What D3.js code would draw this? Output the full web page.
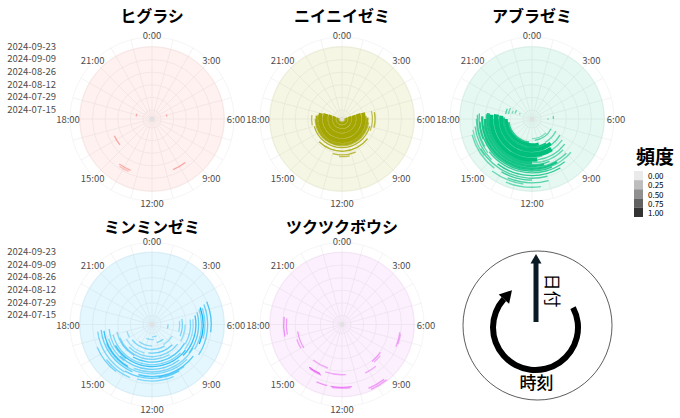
<!DOCTYPE html>
<html><head><meta charset="utf-8">
<script src="https://cdn.jsdelivr.net/npm/d3@7/dist/d3.min.js"></script>
<style>
body{margin:0;background:#fff}
text{font-family:"Noto Sans CJK JP","Noto Sans",sans-serif}
</style>
</head><body>
<svg id="c" width="680" height="418"></svg>
<script>
// ---------------- data ----------------
const species = ["ヒグラシ","ニイニイゼミ","アブラゼミ","ミンミンゼミ","ツクツクボウシ"];
const speciesColors = ["#F8766D","#A3A500","#00BF7D","#00B0F6","#E76BF3"];
const hourTicks = [0,3,6,9,12,15,18,21];
const hourTickLabels = ["0:00","3:00","6:00","9:00","12:00","15:00","18:00","21:00"];
const dateTicks = ["2024-07-15","2024-07-29","2024-08-12","2024-08-26","2024-09-09","2024-09-23"];
const dateRange = ["2024-07-05","2024-09-24"];
const legendValues = [0,0.25,0.5,0.75,1];
const legendLabels = ["0.00","0.25","0.50","0.75","1.00"];

// records: [date, days, startHour, endHour, frequency]
const higurashi = [
 ["2024-07-21",1,4.8,5.4,0.5],
 ["2024-07-22",1,18.6,19.3,0.5],
 ["2024-08-19",1,15.4,16.4,0.55],
 ["2024-09-03",1,9.5,10.5,0.55],
 ["2024-09-04",1,13.5,14.4,0.5],
 ["2024-09-06",1,13.6,14.3,0.3]
];
const niinii = [
 ["2024-07-07",2,5.0,19.0,0.6],
 ["2024-07-09",2,4.8,19.2,1.0],
 ["2024-07-11",1,5.5,18.5,0.4],
 ["2024-07-12",3,4.8,19.3,1.0],
 ["2024-07-15",1,5.2,18.8,0.5],
 ["2024-07-16",4,4.8,19.3,1.0],
 ["2024-07-20",1,5.0,19.0,0.6],
 ["2024-07-21",5,4.8,19.2,1.0],
 ["2024-07-26",1,5.5,18.5,0.5],
 ["2024-07-27",4,4.9,19.0,1.0],
 ["2024-07-31",1,5.5,18.7,0.7],
 ["2024-08-01",2,5.8,18.5,0.9],
 ["2024-08-03",1,6.5,18.0,0.6],
 ["2024-08-05",1,7.0,17.0,0.8],
 ["2024-08-07",1,17.2,18.5,0.6],
 ["2024-08-07",1,5.0,7.5,0.6],
 ["2024-08-09",1,8.5,15.0,0.8],
 ["2024-08-10",1,5.2,7.0,0.7],
 ["2024-08-13",1,10.5,13.0,0.7],
 ["2024-08-15",1,11.2,12.3,0.6]
];
const abura = [
 ["2024-07-19",1,19.3,19.8,0.4],
 ["2024-07-22",1,5.8,6.2,0.4],
 ["2024-07-24",1,19.2,20.0,0.5],
 ["2024-07-26",1,9.0,12.0,0.4],
 ["2024-07-27",1,19.0,19.6,0.4],
 ["2024-07-28",1,5.5,6.0,0.5],
 ["2024-07-28",1,7.8,11.5,0.5],
 ["2024-07-30",2,12.5,17.5,0.8],
 ["2024-07-31",1,18.8,19.8,0.5],
 ["2024-08-01",3,11.0,18.0,1.0],
 ["2024-08-03",1,7.8,10.0,0.5],
 ["2024-08-03",1,18.7,19.5,0.6],
 ["2024-08-04",2,10.0,18.2,0.9],
 ["2024-08-06",4,9.5,18.4,1.0],
 ["2024-08-09",1,8.0,9.5,0.6],
 ["2024-08-10",1,10.5,18.0,0.6],
 ["2024-08-11",5,9.8,18.5,1.0],
 ["2024-08-14",1,8.3,9.8,0.5],
 ["2024-08-16",1,11.0,18.0,0.5],
 ["2024-08-17",4,11.5,18.4,1.0],
 ["2024-08-19",1,8.5,11.5,0.6],
 ["2024-08-21",3,12.0,18.5,0.9],
 ["2024-08-22",1,9.0,12.0,0.5],
 ["2024-08-24",1,10.5,18.4,0.7],
 ["2024-08-25",2,11.0,18.0,0.9],
 ["2024-08-27",1,9.0,17.5,0.6],
 ["2024-08-28",2,10.0,18.2,0.9],
 ["2024-08-30",1,8.7,16.5,0.5],
 ["2024-08-31",1,10.5,17.8,0.8],
 ["2024-09-01",1,16.5,18.4,0.7],
 ["2024-09-02",1,9.5,15.5,0.7],
 ["2024-09-03",1,16.0,18.3,0.6],
 ["2024-09-04",1,15.5,18.0,0.5],
 ["2024-09-05",1,10.0,14.5,0.8],
 ["2024-09-06",1,15.0,17.5,0.6],
 ["2024-09-08",1,11.0,16.0,0.6],
 ["2024-09-09",1,15.5,17.3,0.4],
 ["2024-09-10",1,12.0,14.0,0.7],
 ["2024-09-11",1,14.5,17.0,0.5],
 ["2024-09-13",1,11.0,13.5,0.6],
 ["2024-09-15",1,12.5,14.5,0.5],
 ["2024-09-18",1,11.5,13.5,0.5]
];
const minmin = [
 ["2024-07-18",1,10.5,12.0,0.3],
 ["2024-07-21",1,11.5,13.5,0.3],
 ["2024-07-22",1,6.0,7.0,0.4],
 ["2024-07-25",1,9.5,11.0,0.4],
 ["2024-07-28",1,12.0,14.5,0.3],
 ["2024-07-30",1,8.0,10.0,0.3],
 ["2024-08-01",1,10.0,15.5,0.4],
 ["2024-08-02",1,16.0,17.0,0.3],
 ["2024-08-04",1,5.5,7.0,0.3],
 ["2024-08-05",1,9.0,12.5,0.5],
 ["2024-08-06",1,13.0,16.0,0.3],
 ["2024-08-07",1,5.3,7.5,0.4],
 ["2024-08-09",1,8.5,15.0,0.4],
 ["2024-08-10",1,6.0,8.0,0.3],
 ["2024-08-12",1,10.0,16.5,0.4],
 ["2024-08-13",1,14.0,17.2,0.4],
 ["2024-08-15",1,8.0,14.0,0.6],
 ["2024-08-16",1,5.5,8.0,0.4],
 ["2024-08-18",1,9.0,17.0,0.4],
 ["2024-08-19",1,5.5,8.5,0.3],
 ["2024-08-20",1,8.5,16.0,0.7],
 ["2024-08-21",1,14.5,17.6,0.4],
 ["2024-08-22",1,5.2,9.0,0.7],
 ["2024-08-23",1,9.5,15.0,0.5],
 ["2024-08-24",1,14.5,16.8,0.4],
 ["2024-08-25",1,5.0,8.5,0.5],
 ["2024-08-26",1,8.0,13.5,0.4],
 ["2024-08-27",1,14.0,17.5,0.7],
 ["2024-08-28",1,9.0,16.5,0.4],
 ["2024-08-28",1,4.8,8.0,0.4],
 ["2024-08-30",1,4.7,7.5,0.9],
 ["2024-08-30",1,13.5,17.6,0.5],
 ["2024-08-31",1,8.5,13.0,0.6],
 ["2024-09-01",1,4.8,7.0,0.4],
 ["2024-09-01",1,9.5,11.5,0.4],
 ["2024-09-02",1,10.0,14.0,0.5],
 ["2024-09-03",1,14.0,17.5,0.4],
 ["2024-09-04",1,4.6,8.2,0.5],
 ["2024-09-05",1,10.5,13.0,0.4],
 ["2024-09-06",1,13.5,15.5,0.4],
 ["2024-09-08",1,4.5,6.5,0.6],
 ["2024-09-08",1,14.5,16.5,0.4]
];
const tsukutsuku = [
 ["2024-08-23",1,15.9,17.4,0.6],
 ["2024-08-24",1,13.2,14.6,0.5],
 ["2024-08-26",1,16.0,16.8,0.5],
 ["2024-08-26",1,8.4,9.4,0.6],
 ["2024-08-28",1,8.6,9.3,0.5],
 ["2024-08-29",1,11.7,13.3,0.5],
 ["2024-09-02",1,13.6,14.5,1.0],
 ["2024-09-02",1,9.4,10.3,0.5],
 ["2024-09-03",1,13.5,14.4,0.6],
 ["2024-09-04",1,17.3,18.4,0.6],
 ["2024-09-07",1,17.2,18.5,0.7],
 ["2024-09-07",1,6.5,7.5,0.5],
 ["2024-09-08",1,6.6,7.3,0.4],
 ["2024-09-12",1,11.4,12.7,0.8],
 ["2024-09-12",1,12.9,13.6,0.6],
 ["2024-09-13",1,11.5,12.6,0.5],
 ["2024-09-19",1,9.5,10.5,0.6],
 ["2024-09-21",1,9.4,10.4,0.6]
];
const speciesData = [higurashi, niinii, abura, minmin, tsukutsuku];

// ---------------- layout ----------------
const svg = d3.select("#c");
const parse = d3.timeParse("%Y-%m-%d");
const colX = [152, 342, 532];
const rowY = [119, 324.5];
const R_DATA = 73, R_OUT = 82, R_LAB = 84;

const rScale = d3.scaleTime().domain(dateRange.map(parse)).range([0, R_DATA]);
const aScale = d3.scaleLinear().domain([0, 24]).range([0, 2 * Math.PI]);
const alphaScale = d3.scaleLinear().domain([0, 1]).range([0.1, 1]);
const arc = d3.arc();

species.forEach((name, i) => {
  const cx = colX[i % 3], cy = rowY[Math.floor(i / 3)];
  const g = svg.append("g").attr("transform", `translate(${cx},${cy})`);
  const col = speciesColors[i];

  g.selectAll("line.spoke").data(d3.range(0, 24)).join("line")
    .attr("x1", 0).attr("y1", 0)
    .attr("x2", h => R_OUT * Math.sin(aScale(h)))
    .attr("y2", h => -R_OUT * Math.cos(aScale(h)))
    .attr("stroke", "#ebebeb").attr("stroke-width", 0.6);
  g.selectAll("circle.ring").data(dateTicks).join("circle")
    .attr("r", d => rScale(parse(d)))
    .attr("fill", "none").attr("stroke", "#ebebeb").attr("stroke-width", 0.6);
  g.append("circle").attr("r", R_OUT).attr("fill", "none")
    .attr("stroke", "#efefef").attr("stroke-width", 0.6);

  // background disc (frequency 0 everywhere)
  g.append("circle").attr("r", rScale(parse(dateRange[1])))
    .attr("fill", col).attr("fill-opacity", alphaScale(0));

  g.selectAll("path.tile").data(speciesData[i]).join("path")
    .attr("d", d => {
      const d0 = parse(d[0]);
      const d1 = d3.timeDay.offset(d0, d[1]);
      return arc({
        innerRadius: rScale(d0),
        outerRadius: rScale(d1) + 0.45,
        startAngle: aScale(d[2]),
        endAngle: aScale(d[3])
      });
    })
    .attr("fill", col)
    .attr("fill-opacity", d => alphaScale(d[4]));

  g.append("circle").attr("r", 2.2).attr("fill", "#e0e0e0");

  g.selectAll("text.hl").data(hourTicks).join("text")
    .attr("x", h => R_LAB * Math.sin(aScale(h)))
    .attr("y", h => -R_LAB * Math.cos(aScale(h)))
    .attr("text-anchor", "middle").attr("dominant-baseline", "central")
    .attr("font-size", 9.5).attr("fill", "#4d4d4d")
    .text((h, j) => hourTickLabels[j]);

  svg.append("text")
    .attr("x", cx).attr("y", cy - (i < 3 ? 104.5 : 98.5))
    .attr("text-anchor", "middle").attr("dominant-baseline", "central")
    .attr("font-size", 16).attr("font-weight", "bold").attr("fill", "#000")
    .text(name);

  if (i % 3 === 0) {
    g.selectAll("text.dl").data(dateTicks).join("text")
      .attr("x", 56 - cx)
      .attr("y", d => -rScale(parse(d)) - 1.2)
      .attr("text-anchor", "end").attr("dominant-baseline", "central")
      .attr("font-size", 9.5).attr("fill", "#4d4d4d")
      .text(d => d);
  }
});

// ---------------- legend ----------------
svg.append("text").attr("x", 655).attr("y", 155)
  .attr("text-anchor", "middle").attr("dominant-baseline", "central")
  .attr("font-size", 19).attr("font-weight", "bold").text("頻度");
const ly = d3.scaleBand().domain(legendValues).range([171, 217]);
svg.selectAll("rect.lg").data(legendValues).join("rect")
  .attr("x", 634).attr("y", v => ly(v)).attr("width", 9).attr("height", ly.bandwidth())
  .attr("fill", "#333").attr("fill-opacity", v => alphaScale(v));
svg.selectAll("text.lg").data(legendValues).join("text")
  .attr("x", 648).attr("y", v => ly(v) + ly.bandwidth() / 2)
  .attr("dominant-baseline", "central").attr("font-size", 8).attr("fill", "#000")
  .text((v, j) => legendLabels[j]);

// ---------------- explanatory diagram ----------------
const ex = svg.append("g").attr("transform", "translate(537.5,325.5)");
ex.append("circle").attr("r", 74.5).attr("fill", "none").attr("stroke", "#333").attr("stroke-width", 0.8);
ex.append("line").attr("x1", -1.5).attr("x2", -1.5).attr("y1", -3.5).attr("y2", -63)
  .attr("stroke", "#0b1b24").attr("stroke-width", 5);
ex.append("path").attr("d", d3.line()([[-1.5, -71.5], [-7, -62], [4, -62]]))
  .attr("fill", "#0b1b24");
ex.append("text").attr("transform", "translate(16,-35) rotate(90)")
  .attr("text-anchor", "middle").attr("dominant-baseline", "central")
  .attr("font-size", 17).attr("fill", "#000").text("日付");
const ac = [-2, 2], aR = 42.5;
const deg = Math.PI / 180, a0 = 62 * deg, a1 = 312 * deg;
ex.append("path")
  .attr("transform", `translate(${ac[0]},${ac[1]})`)
  .attr("d", d3.arc()({innerRadius: aR - 3, outerRadius: aR + 3, startAngle: a0, endAngle: a1}))
  .attr("fill", "#000");
const P = [ac[0] + aR * Math.sin(a1), ac[1] - aR * Math.cos(a1)];
const T = [Math.cos(a1), Math.sin(a1)], N = [Math.sin(a1), -Math.cos(a1)];
ex.append("path").attr("d", d3.line()([
  [P[0] + N[0] * 7, P[1] + N[1] * 7],
  [P[0] - N[0] * 7, P[1] - N[1] * 7],
  [P[0] + T[0] * 12, P[1] + T[1] * 12]
])).attr("fill", "#000");
ex.append("text").attr("x", -1).attr("y", 56)
  .attr("text-anchor", "middle").attr("dominant-baseline", "central")
  .attr("font-size", 17).attr("font-weight", 500).attr("fill", "#000").text("時刻");
</script>
</body></html>
